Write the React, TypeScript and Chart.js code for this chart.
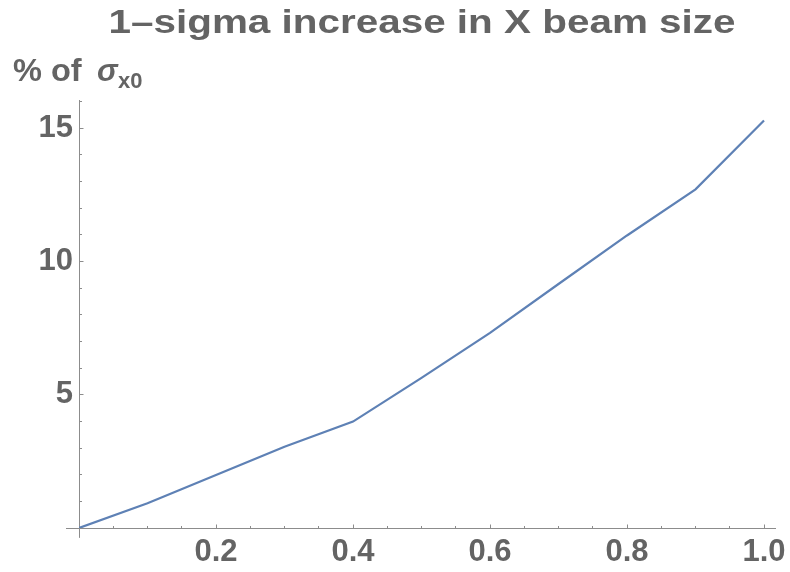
import React, { useEffect, useRef } from "react";
import { Chart, registerables } from "chart.js";

Chart.register(...registerables);

// ---- data ----
const xValues = [0, 0.1, 0.2, 0.3, 0.4, 0.5, 0.6, 0.7, 0.8, 0.9, 1.0];
const yValues = [0, 0.93, 1.99, 3.05, 3.99, 5.63, 7.32, 9.15, 10.97, 12.7, 15.28];

const xMajorTicks = [0.2, 0.4, 0.6, 0.8, 1.0];
const xMinorTicks = [0.05, 0.1, 0.15, 0.25, 0.3, 0.35, 0.45, 0.5, 0.55, 0.65, 0.7, 0.75, 0.85, 0.9, 0.95];
const yMajorTicks = [5, 10, 15];
const yMinorTicks = [1, 2, 3, 4, 6, 7, 8, 9, 11, 12, 13, 14, 16];

const titleText = "1–sigma increase in X beam size";
const yLabelMain = "% of";
const yLabelSymbol = "σ";
const yLabelSub = "x0";

// ---- style ----
const FONT = "'Liberation Sans', Arial, sans-serif";
const TEXT_COLOR = "#646464";
const AXIS_COLOR = "#8c8c8c";
const LINE_COLOR = "#5E81B5";
const X_AXIS_EXTENT = [-0.019, 1.0175];
const Y_AXIS_EXTENT = [-0.37, 16.05];

const decorPlugin = {
  id: "decor",
  beforeDatasetsDraw(chart: any) {
    const ctx = chart.ctx as CanvasRenderingContext2D;
    const xs = chart.scales.x;
    const ys = chart.scales.y;
    const x0 = Math.floor(xs.getPixelForValue(0)) + 0.5;
    const y0 = Math.floor(ys.getPixelForValue(0)) + 0.5;
    ctx.save();
    ctx.strokeStyle = AXIS_COLOR;
    ctx.lineWidth = 1;
    ctx.beginPath();
    ctx.moveTo(xs.getPixelForValue(X_AXIS_EXTENT[0]), y0);
    ctx.lineTo(xs.getPixelForValue(X_AXIS_EXTENT[1]), y0);
    ctx.moveTo(x0, ys.getPixelForValue(Y_AXIS_EXTENT[0]));
    ctx.lineTo(x0, ys.getPixelForValue(Y_AXIS_EXTENT[1]));
    xMajorTicks.forEach((v) => {
      const p = Math.floor(xs.getPixelForValue(v)) + 0.5;
      ctx.moveTo(p, y0);
      ctx.lineTo(p, y0 - 4);
    });
    xMinorTicks.forEach((v) => {
      const p = Math.floor(xs.getPixelForValue(v)) + 0.5;
      ctx.moveTo(p, y0);
      ctx.lineTo(p, y0 - 2.5);
    });
    yMajorTicks.forEach((v) => {
      const p = Math.floor(ys.getPixelForValue(v)) + 0.5;
      ctx.moveTo(x0, p);
      ctx.lineTo(x0 + 4, p);
    });
    yMinorTicks.forEach((v) => {
      const p = Math.floor(ys.getPixelForValue(v)) + 0.5;
      ctx.moveTo(x0, p);
      ctx.lineTo(x0 + 2.5, p);
    });
    ctx.stroke();
    ctx.restore();
  },
  afterDraw(chart: any) {
    const ctx = chart.ctx as CanvasRenderingContext2D;
    ctx.save();
    ctx.fillStyle = TEXT_COLOR;
    ctx.textBaseline = "alphabetic";
    ctx.textAlign = "left";
    // title, slightly widened like the reference
    ctx.font = `bold 33px ${FONT}`;
    const w = ctx.measureText(titleText).width;
    const targetW = 627;
    ctx.save();
    ctx.translate(422 - targetW / 2, 33);
    ctx.scale(targetW / w, 1);
    ctx.fillText(titleText, 0, 0);
    ctx.restore();
    // y label
    ctx.save();
    ctx.translate(13, 81);
    ctx.scale(1.05, 1);
    ctx.font = `bold 31px ${FONT}`;
    ctx.fillText(yLabelMain, 0, 0);
    ctx.restore();
    ctx.font = `italic bold 31px ${FONT}`;
    ctx.fillText(yLabelSymbol, 97, 81);
    ctx.font = `bold 22px ${FONT}`;
    ctx.fillText(yLabelSub, 118, 88);
    ctx.restore();
  },
};

export default function App() {
  const ref = useRef<HTMLCanvasElement | null>(null);
  useEffect(() => {
    document.body.style.margin = "0";
    const canvas = ref.current;
    if (!canvas) return;
    const chart = new Chart(canvas, {
      type: "line",
      data: {
        datasets: [
          {
            data: xValues.map((x, i) => ({ x, y: yValues[i] })),
            borderColor: LINE_COLOR,
            borderWidth: 2.2,
            pointRadius: 0,
            tension: 0,
            fill: false,
          },
        ],
      },
      options: {
        animation: false,
        responsive: true,
        maintainAspectRatio: false,
        layout: { padding: { top: 100, right: 14, left: 0, bottom: 0 } },
        plugins: {
          legend: { display: false },
          title: { display: false },
          tooltip: { enabled: false },
        },
        scales: {
          x: {
            type: "linear",
            min: 0,
            max: X_AXIS_EXTENT[1],
            grid: { display: false, drawTicks: false },
            border: { display: false },
            afterBuildTicks: (s: any) => {
              s.ticks = xMajorTicks.map((v) => ({ value: v }));
            },
            afterFit: (s: any) => {
              s.height = 44;
              s.paddingLeft = 0;
              s.paddingRight = 0;
            },
            ticks: {
              padding: 6,
              color: TEXT_COLOR,
              maxRotation: 0,
              autoSkip: false,
              font: { family: FONT, size: 31, weight: "bold" },
              callback: (v: any) => Number(v).toFixed(1),
            },
          },
          y: {
            type: "linear",
            min: 0,
            max: Y_AXIS_EXTENT[1],
            grid: { display: false, drawTicks: false },
            border: { display: false },
            afterBuildTicks: (s: any) => {
              s.ticks = yMajorTicks.map((v) => ({ value: v }));
            },
            afterFit: (s: any) => {
              s.width = 79;
              s.paddingTop = 0;
              s.paddingBottom = 0;
            },
            ticks: {
              padding: 6,
              color: TEXT_COLOR,
              autoSkip: false,
              font: { family: FONT, size: 31, weight: "bold" },
              callback: (v: any) => String(v),
            },
          },
        },
      },
      plugins: [decorPlugin],
    });
    return () => chart.destroy();
  }, []);
  return (
    <div style={{ width: 790, height: 572, position: "relative" }}>
      <canvas ref={ref} />
    </div>
  );
}
